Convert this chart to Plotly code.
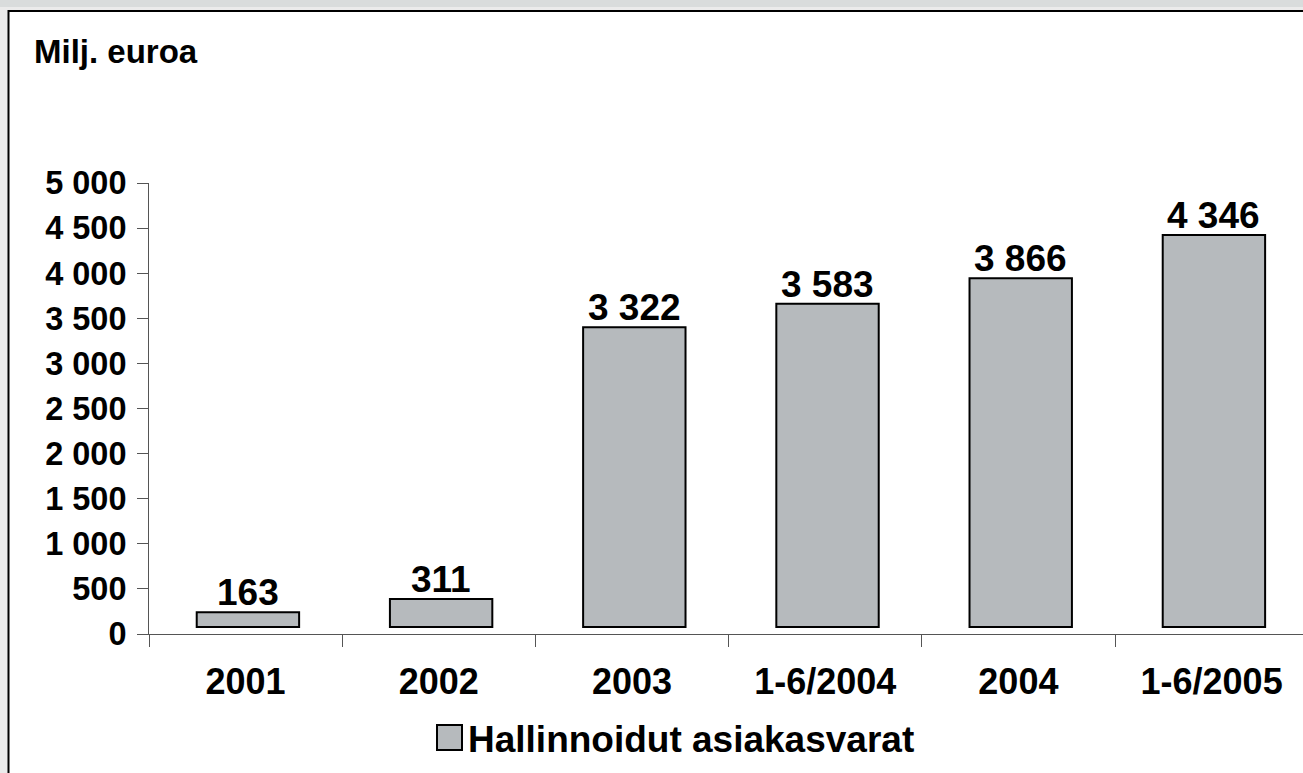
import plotly.graph_objects as go

# ---- data ----
categories = ["2001", "2002", "2003", "1-6/2004", "2004", "1-6/2005"]
values = [163, 311, 3322, 3583, 3866, 4346]
y_ticks = [0, 500, 1000, 1500, 2000, 2500, 3000, 3500, 4000, 4500, 5000]
series_name = "Hallinnoidut asiakasvarat"
y_title = "Milj. euroa"

# ---- style / layout ----
W, H = 1303, 773
L, R, T, B = 149, 0, 183, 139
PW, PH = W - L - R, H - T - B
BAR_FILL = "#b6babd"
AXIS_COL = "#555555"
FONT = "Liberation Sans, Arial, sans-serif"
BAR_LIFT = 78      # small visual lift of bars off the axis, as in the original
BAR_WIDTH = 0.53
BAR_NUDGE = 0.012  # bars sit slightly right of the category centre


def fx(px):
    return (px - L) / PW


def fy(py):
    return (H - B - py) / PH


def fmt(v):
    return f"{v:,}".replace(",", " ")


fig = go.Figure()
fig.add_trace(go.Bar(
    x=categories,
    y=values,
    base=[BAR_LIFT] * len(values),
    width=BAR_WIDTH,
    offset=-BAR_WIDTH / 2 + BAR_NUDGE,
    marker=dict(color=BAR_FILL, line=dict(color="black", width=2)),
    name=series_name,
    showlegend=False,
    hovertemplate="%{x}: %{y}<extra></extra>",
))

n = len(categories)
x_range = [-0.5, -0.5 + PW / 193.2]

# value labels: positioned on the category axis by index (numeric-looking
# category names would otherwise be read as numbers)
label_annotations = [
    dict(x=i + BAR_NUDGE, y=v + BAR_LIFT, xref="x", yref="y", text=fmt(v),
         xanchor="center", yanchor="bottom", yshift=-3, showarrow=False,
         font=dict(family=FONT, size=37, color="black", weight="bold"))
    for i, v in enumerate(values)
]

fig.update_layout(
    width=W, height=H,
    margin=dict(l=L, r=R, t=T, b=B, pad=0),
    paper_bgcolor="#ebebeb",
    plot_bgcolor="rgba(0,0,0,0)",
    showlegend=False,
    xaxis=dict(
        type="category", range=x_range, tickson="boundaries",
        ticks="outside", ticklen=12, tickwidth=1, tickcolor=AXIS_COL,
        showline=True, linecolor=AXIS_COL, linewidth=1,
        showgrid=False, zeroline=False,
        tickfont=dict(family=FONT, size=36, color="black", weight="bold"),
        ticklabelstandoff=16,
    ),
    xaxis2=dict(
        overlaying="x", anchor="y", side="bottom", range=x_range,
        tickmode="array", tickvals=[i - 0.5 for i in range(n + 1)],
        ticks="inside", ticklen=12, tickwidth=1, tickcolor=AXIS_COL,
        showticklabels=False, showline=False, showgrid=False, zeroline=False,
    ),
    yaxis=dict(
        range=[0, 5000], tickmode="array", tickvals=y_ticks,
        ticktext=[fmt(v) for v in y_ticks],
        ticks="outside", ticklen=11, tickwidth=1, tickcolor=AXIS_COL,
        showline=True, linecolor=AXIS_COL, linewidth=1,
        showgrid=False, zeroline=False,
        tickfont=dict(family=FONT, size=32.5, color="black", weight="bold"),
        ticklabelstandoff=4,
    ),
    yaxis2=dict(
        overlaying="y", anchor="x", side="left", range=[0, 5000],
        tickmode="array", tickvals=y_ticks,
        ticks="inside", ticklen=11, tickwidth=1, tickcolor=AXIS_COL,
        showticklabels=False, showline=False, showgrid=False, zeroline=False,
    ),
    shapes=[
        dict(type="rect", xref="paper", yref="paper", layer="below",
             x0=fx(-5), x1=fx(W + 5), y0=fy(7), y1=fy(-5),
             fillcolor="#d9dcdc", line=dict(width=0)),
        dict(type="rect", xref="paper", yref="paper", layer="below",
             x0=fx(8.5), x1=fx(W + 20), y0=fy(H + 20), y1=fy(11),
             fillcolor="white", line=dict(color="black", width=2)),
        # legend swatch
        dict(type="rect", xref="paper", yref="paper",
             x0=fx(437), x1=fx(462), y0=fy(750), y1=fy(725),
             fillcolor=BAR_FILL, line=dict(color="black", width=2)),
    ],
    annotations=label_annotations + [
        dict(text=y_title, xref="paper", yref="paper", x=fx(32), y=fy(52),
             xanchor="left", yanchor="middle", showarrow=False,
             font=dict(family=FONT, size=33, color="black", weight="bold")),
        dict(text=series_name, xref="paper", yref="paper", x=fx(466), y=fy(739),
             xanchor="left", yanchor="middle", showarrow=False,
             font=dict(family=FONT, size=37, color="black", weight="bold")),
    ],
)

fig.write_html(
    "out.html",
    config={"displayModeBar": False},
    post_script="document.body.style.margin='0';"
                "document.body.style.background='#ebebeb';",
)
